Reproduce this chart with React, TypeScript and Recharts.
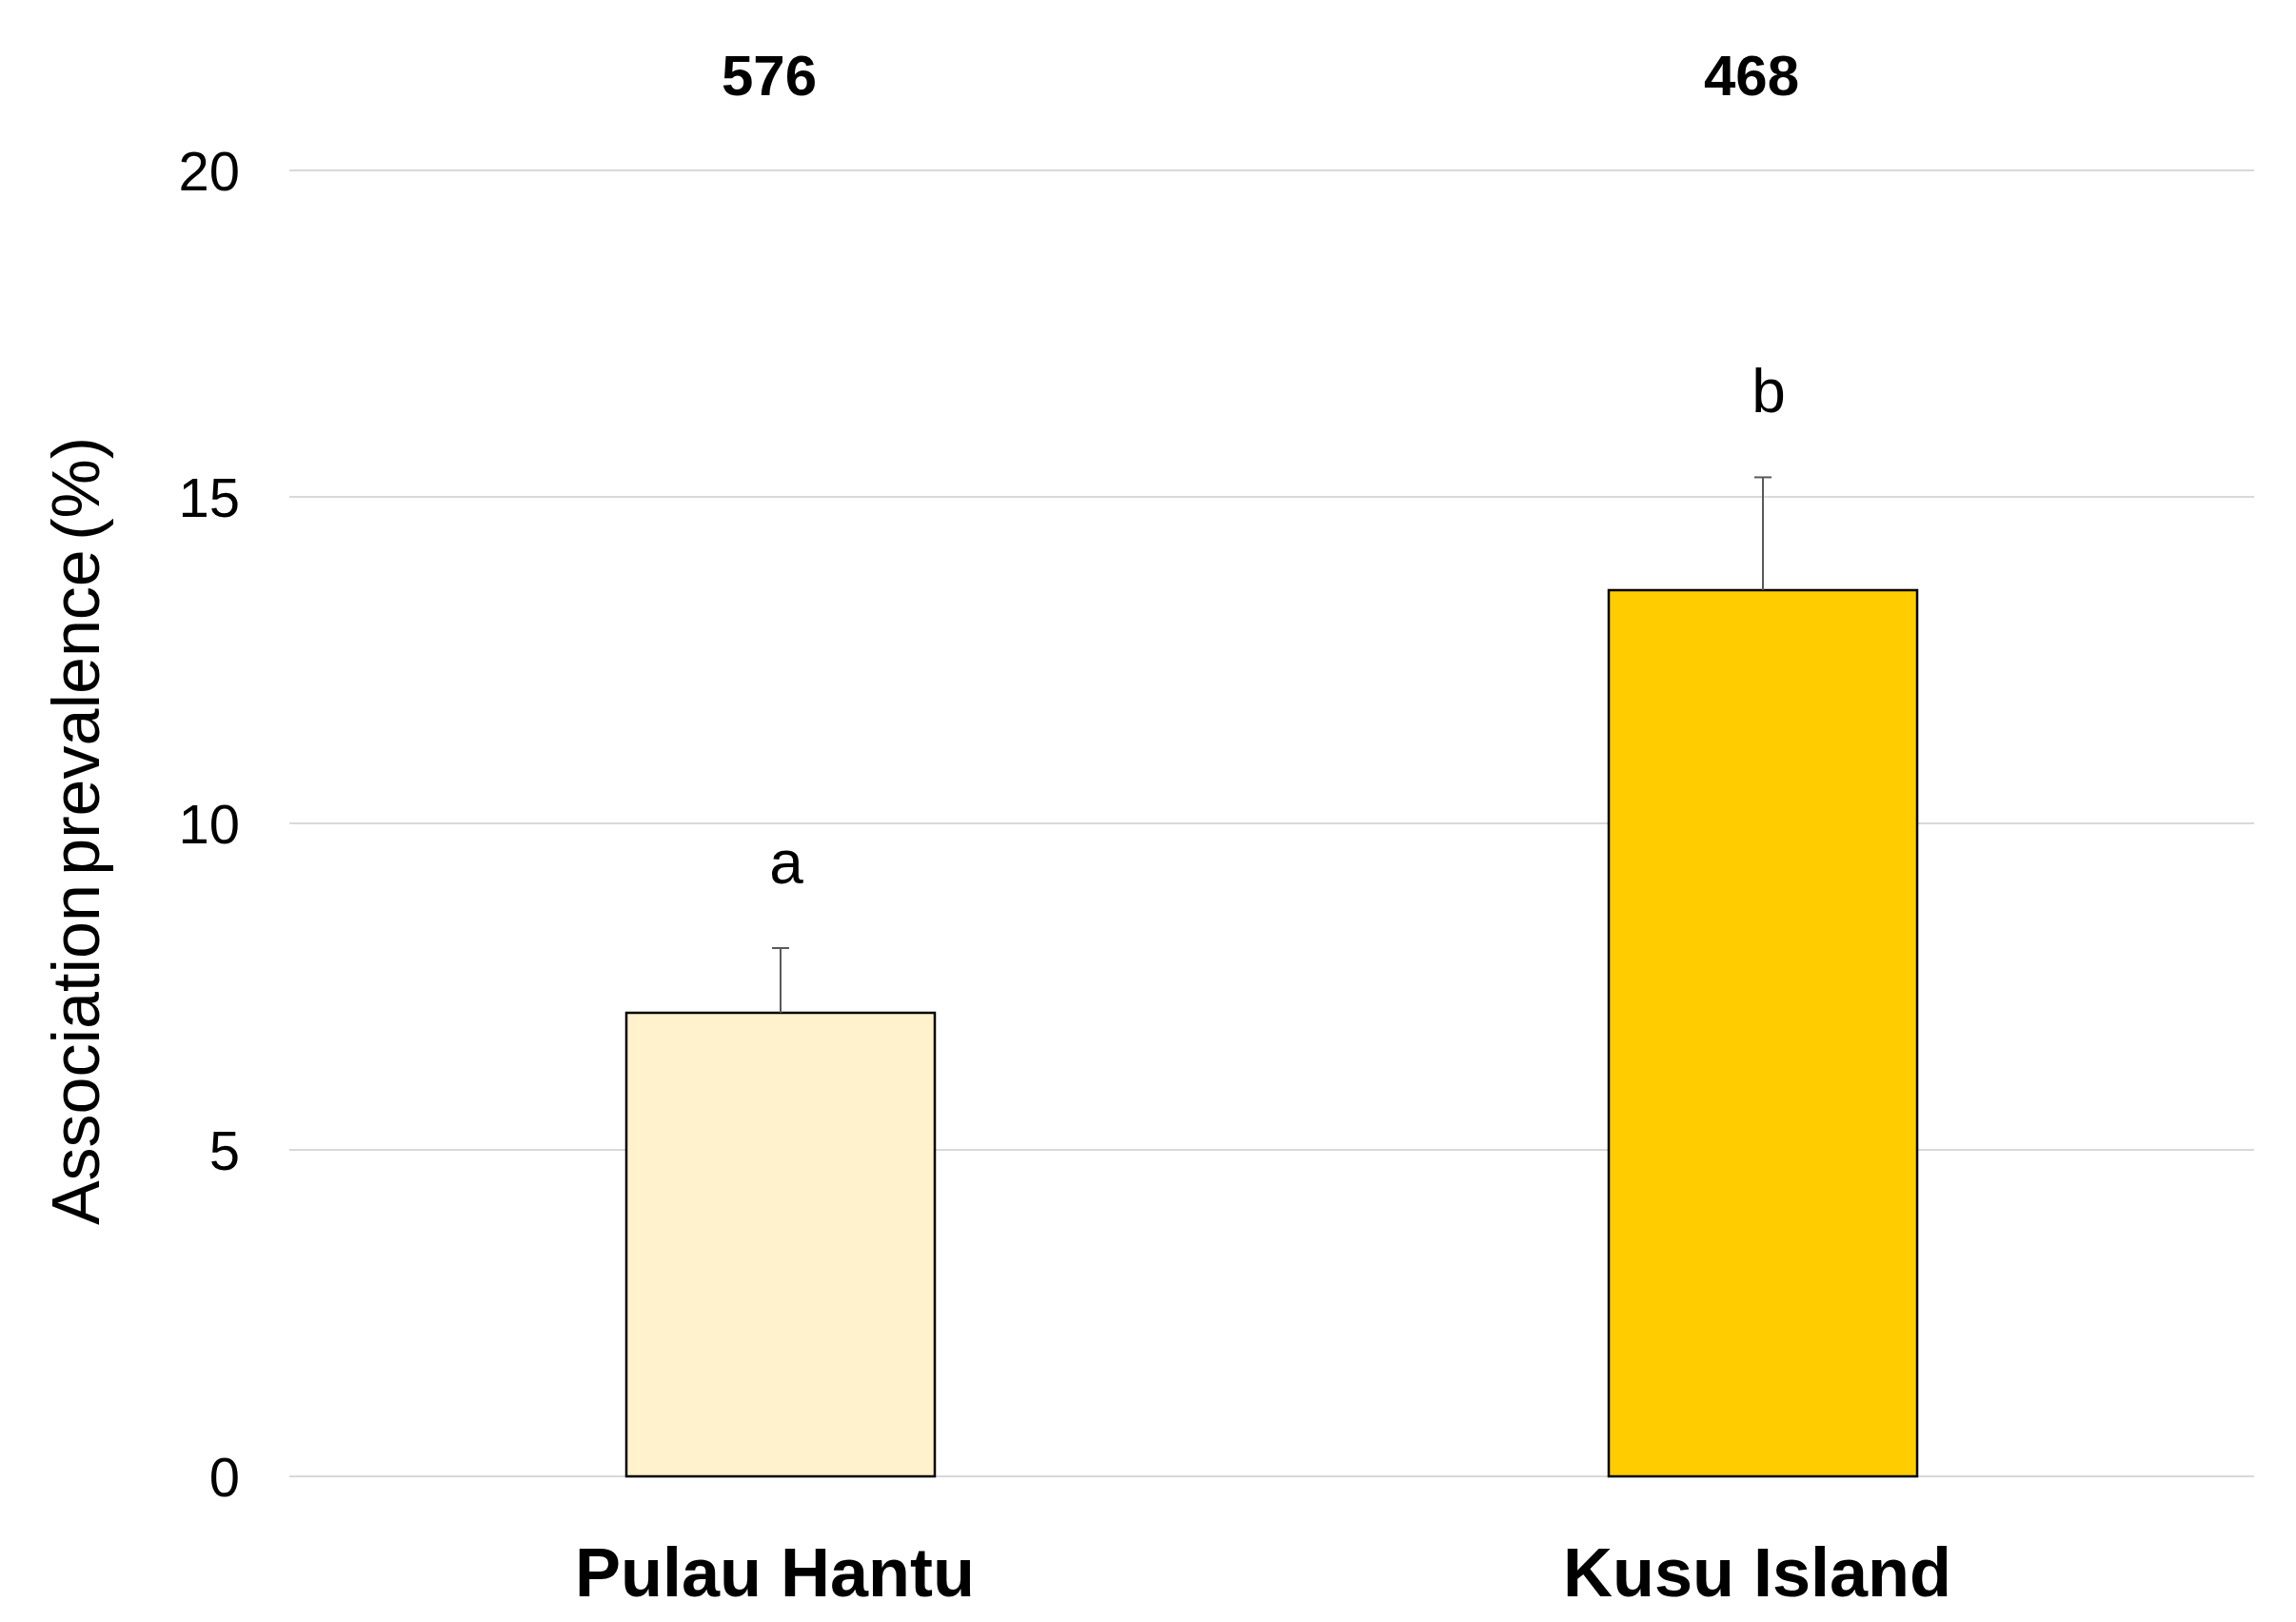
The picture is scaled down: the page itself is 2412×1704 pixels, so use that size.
import { BarChart, Bar, XAxis, YAxis, CartesianGrid, LabelList, Cell, Rectangle } from 'recharts'

const sites = ['Pulau Hantu', 'Kusu Island']
const prevalence = [7.1, 13.57]
const stdError = [0.99, 1.73]
const sampleSizes = [576, 468]
const groupLetters = ['a', 'b']
const barColors = ['#FFF2CC', '#FFCC00']
const yTicks = [0, 5, 10, 15, 20]

const data = sites.map((site, i) => ({
  site,
  value: prevalence[i],
  err: stdError[i],
  n: sampleSizes[i],
  letter: groupLetters[i],
}))

const FONT = '"Liberation Sans", Arial, sans-serif'

// bar rect plus an upward-only error whisker
function BarWithError(props: any) {
  const { x, y, width, height, fill, payload } = props
  const pxPerUnit = height / payload.value
  const cx = x + width / 2
  const top = y - payload.err * pxPerUnit
  return (
    <g>
      <Rectangle x={x} y={y} width={width} height={height} fill={fill} stroke="#000" strokeWidth={2.5} />
      <line x1={cx} y1={y} x2={cx} y2={top} stroke="#595959" strokeWidth={2} />
      <line x1={cx - 9} y1={top} x2={cx + 9} y2={top} stroke="#595959" strokeWidth={2} />
    </g>
  )
}

function CountLabel(props: any) {
  const { x, width, value } = props
  return (
    <text x={x + width / 2 - 12} y={100} textAnchor="middle" fontFamily={FONT} fontWeight="bold" fontSize={60} fill="#000">
      {value}
    </text>
  )
}

function LetterLabel(props: any) {
  const { x, y, width, height, index } = props
  const d = data[index]
  const top = y - d.err * (height / d.value)
  return (
    <text x={x + width / 2 + 6} y={top - 68} textAnchor="middle" fontFamily={FONT} fontSize={64} fill="#000">
      {d.letter}
    </text>
  )
}

function SiteTick(props: any) {
  const { x, y, payload } = props
  return (
    <text x={x - 6} y={y + 118} textAnchor="middle" fontFamily={FONT} fontWeight="bold" fontSize={72} fill="#000">
      {payload.value}
    </text>
  )
}

function ValueTick(props: any) {
  const { x, y, payload } = props
  return (
    <text x={x} y={y} dy="0.36em" textAnchor="end" fontFamily={FONT} fontSize={58} fill="#000">
      {payload.value}
    </text>
  )
}

function YTitle(props: any) {
  const cy = props.viewBox ? props.viewBox.y + props.viewBox.height / 2 + 8 : 873
  return (
    <text
      x={80}
      y={cy}
      transform={`rotate(-90 80 ${cy})`}
      textAnchor="middle"
      dominantBaseline="central"
      fontFamily={FONT}
      fontSize={70}
      wordSpacing={-10}
      fill="#000"
    >
      Association prevalence (%)
    </text>
  )
}

export default function App() {
  return (
    <div style={{ position: 'absolute', left: 0, top: 0, width: 2412, height: 1704, background: '#fff' }}>
      <BarChart
        width={2412}
        height={1704}
        data={data}
        margin={{ top: 179, right: 44, bottom: 0, left: 0 }}
        barSize={324}
      >
        <CartesianGrid vertical={false} stroke="#D9D9D9" strokeWidth={2} />
        <XAxis dataKey="site" axisLine={false} tickLine={false} tick={<SiteTick />} height={153} />
        <YAxis
          width={304}
          domain={[0, 20]}
          ticks={yTicks}
          axisLine={false}
          tickLine={false}
          tickSize={0}
          tickMargin={52}
          tick={<ValueTick />}
          label={<YTitle />}
        />
        <Bar dataKey="value" isAnimationActive={false} shape={<BarWithError />}>
          {data.map((d, i) => (
            <Cell key={d.site} fill={barColors[i]} />
          ))}
          <LabelList dataKey="n" content={<CountLabel />} />
          <LabelList dataKey="letter" content={<LetterLabel />} />
        </Bar>
      </BarChart>
    </div>
  )
}
